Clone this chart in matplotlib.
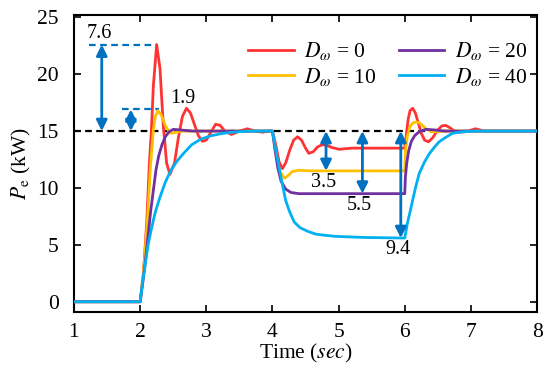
import matplotlib
matplotlib.use("Agg")
import matplotlib.pyplot as plt

plt.rcParams['font.family'] = ['Liberation Serif', 'DejaVu Serif']
plt.rcParams['mathtext.fontset'] = 'stix'

# ---- data ----
t_d0 = [1.0, 2.0, 2.05, 2.1, 2.14, 2.17, 2.2, 2.25, 2.3, 2.35, 2.4, 2.45, 2.52, 2.58, 2.64, 2.7,
        2.76, 2.82, 2.88, 2.94, 3.0, 3.07, 3.14, 3.21, 3.28, 3.38, 3.5, 3.62, 3.74, 3.85, 3.95,
        4.0, 4.05, 4.1, 4.15, 4.2, 4.26, 4.32, 4.38, 4.44, 4.5, 4.55, 4.62, 4.68, 4.75, 4.82,
        4.9, 5.01, 5.2, 5.5, 6.0, 6.02, 6.05, 6.08, 6.12, 6.16, 6.2, 6.25, 6.3, 6.36, 6.42,
        6.5, 6.56, 6.62, 6.68, 6.75, 6.82, 6.92, 7.07, 7.2, 7.4, 8.0]
p_d0 = [0.0, 0.0, 2.5, 7.0, 12.2, 15.0, 19.0, 22.6, 20.5, 15.5, 12.2, 11.2, 12.2, 14.5, 16.3, 17.0,
        16.6, 15.6, 14.6, 14.1, 14.2, 14.9, 15.6, 15.5, 15.0, 14.7, 15.0, 15.2, 15.0, 14.9, 15.0,
        15.0, 13.8, 12.3, 11.7, 12.2, 13.3, 14.2, 14.5, 14.2, 13.5, 13.04, 13.2, 13.6, 13.8, 13.75,
        13.55, 13.4, 13.5, 13.5, 13.5, 14.5, 16.0, 16.8, 17.0, 16.6, 15.8, 14.8, 14.2, 14.06, 14.4,
        15.1, 15.45, 15.5, 15.3, 15.0, 14.9, 14.95, 15.2, 15.0, 15.0, 15.0]

t_d10 = [1.0, 2.0, 2.05, 2.1, 2.13, 2.16, 2.2, 2.23, 2.27, 2.32, 2.38, 2.43, 2.47, 2.55, 2.65,
         4.0, 4.05, 4.1, 4.18, 4.24, 4.3, 4.4, 4.6, 6.0, 6.01, 6.04, 6.08, 6.13, 6.19, 6.25,
         6.32, 6.4, 6.5, 6.6, 8.0]
p_d10 = [0.0, 0.0, 2.5, 6.3, 9.2, 12.2, 15.1, 16.3, 16.8, 16.4, 15.5, 15.0, 14.8, 14.9, 15.0,
         15.0, 13.2, 11.6, 10.85, 11.1, 11.45, 11.55, 11.5, 11.5, 13.3, 14.6, 15.4, 15.75, 15.8, 15.6,
         15.2, 14.95, 14.95, 15.0, 15.0]

t_d20 = [1.0, 2.0, 2.04, 2.08, 2.12, 2.16, 2.2, 2.24, 2.28, 2.33, 2.38, 2.44, 2.5, 2.6, 2.8,
         4.0, 4.04, 4.08, 4.13, 4.2, 4.28, 4.4, 6.0, 6.01, 6.03, 6.06, 6.1, 6.15, 6.22, 6.32,
         6.45, 6.6, 8.0]
p_d20 = [0.0, 0.0, 1.7, 3.6, 5.8, 8.0, 9.8, 11.6, 12.8, 13.8, 14.5, 14.95, 15.15, 15.1, 15.0,
         15.0, 13.3, 11.8, 10.6, 9.9, 9.6, 9.5, 9.5, 11.0, 12.2, 13.3, 14.1, 14.6, 14.95, 15.15,
         15.1, 15.0, 15.0]

t_d40 = [1.0, 2.0, 2.04, 2.08, 2.12, 2.17, 2.23, 2.3, 2.38, 2.46, 2.55, 2.65, 2.78, 2.92, 3.08,
         3.25, 3.45, 3.7, 4.0, 4.03, 4.06, 4.1, 4.14, 4.2, 4.26, 4.33, 4.42, 4.53, 4.65, 4.78,
         4.95, 5.15, 5.4, 6.0, 6.04, 6.08, 6.12, 6.17, 6.22, 6.3, 6.37, 6.45, 6.52, 6.62, 6.72,
         6.82, 6.95, 7.1, 8.0]
p_d40 = [0.0, 0.0, 1.8, 3.4, 5.0, 6.4, 7.9, 9.2, 10.5, 11.5, 12.3, 13.0, 13.8, 14.3, 14.6,
         14.8, 14.93, 15.0, 15.0, 14.0, 13.0, 11.8, 10.6, 8.9, 7.9, 7.0, 6.5, 6.2, 5.95, 5.85,
         5.75, 5.7, 5.65, 5.6, 6.9, 7.9, 8.95, 10.2, 11.3, 12.3, 13.0, 13.6, 14.06, 14.45, 14.8,
         14.9, 14.97, 15.0, 15.0]

labels = [r'$D_{\omega}$ = 0', r'$D_{\omega}$ = 10', r'$D_{\omega}$ = 20', r'$D_{\omega}$ = 40']
colors = ['#FF3333', '#FFC000', '#7030A0', '#00B0F0']

ref_level = 15
# arrows: (x, y_from, y_to, label, label_x, label_y)
arrows = [(1.42, 15, 22.6, '7.6', 1.39, 23.6),
          (1.86, 15, 16.9, '1.9', 2.64, 17.9),
          (4.81, 15, 11.5, '3.5', 4.78, 10.5),
          (5.36, 15, 9.5, '5.5', 5.32, 8.45),
          (5.94, 15, 5.6, '9.4', 5.90, 4.6)]
# blue dashed guide lines: (x_start, x_end, y)
guides = [(1.23, 2.25, 22.6), (1.73, 2.29, 16.9)]

xticks = [1, 2, 3, 4, 5, 6, 7, 8]
yticks = [0, 5, 10, 15, 20, 25]

FS = 15.5
arrow_col = '#0070C0'

fig = plt.figure(figsize=(5.5, 3.75), dpi=100)
ax = fig.add_axes([0.1345, 0.168, 0.842, 0.792])

ax.axhline(ref_level, color='black', ls=(0, (3, 2)), lw=1.6, zorder=1)
for x0, x1, y in guides:
    ax.plot([x0, x1], [y, y], color=arrow_col, ls=(0, (3, 2)), lw=1.6, zorder=1)

series = [(t_d0, p_d0), (t_d10, p_d10), (t_d20, p_d20), (t_d40, p_d40)]
for (t, p), c, lab in zip(series, colors, labels):
    ax.plot(t, p, color=c, lw=2.0, label=lab, zorder=3)

for x, y0, y1, txt, tx, ty in arrows:
    ax.annotate('', xy=(x, y1), xytext=(x, y0),
                arrowprops=dict(arrowstyle='<|-|>', color=arrow_col, lw=2.0,
                                mutation_scale=16, shrinkA=0, shrinkB=0), zorder=4)
    ax.text(tx, ty, txt, ha='center', va='center', fontsize=FS - 1, zorder=5)

ax.set_xlim(1, 8)
ax.set_ylim(-0.9, 25.2)
ax.set_xticks(xticks)
ax.set_yticks(yticks)
ax.tick_params(direction='in', top=True, right=True, length=5, width=1.2, labelsize=FS)
ax.tick_params(axis='x', pad=8)
ax.tick_params(axis='y', pad=11)
for s in ax.spines.values():
    s.set_linewidth(1.5)

ax.set_xlabel(r'Time ($\mathit{sec}$)', fontsize=FS, labelpad=0)
ax.set_ylabel(r'$P_{\mathrm{e}}$ (kW)', fontsize=FS, labelpad=3)

ax.legend(loc='upper left', bbox_to_anchor=(0.335, 0.98), ncol=2, frameon=False,
          fontsize=FS, handlelength=2.1, columnspacing=1.0, labelspacing=0.15,
          handletextpad=0.5)

fig.savefig('out.png', dpi=100)
